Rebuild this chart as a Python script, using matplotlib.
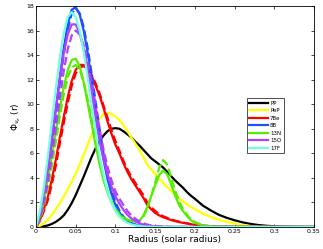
import matplotlib
matplotlib.use('Agg')
import matplotlib.pyplot as plt

# shared radius grid (solar radius)
r = [0.0, 0.005, 0.01, 0.015, 0.02, 0.025, 0.03, 0.035, 0.04, 0.045,
     0.05, 0.055, 0.06, 0.065, 0.07, 0.075, 0.08, 0.085, 0.09, 0.095,
     0.1, 0.105, 0.11, 0.115, 0.12, 0.125, 0.13, 0.135, 0.14, 0.145,
     0.15, 0.155, 0.16, 0.165, 0.17, 0.175, 0.18, 0.185, 0.19, 0.195,
     0.2, 0.21, 0.22, 0.23, 0.24, 0.25, 0.26, 0.27, 0.28, 0.29,
     0.3, 0.31, 0.32, 0.33, 0.34, 0.35]

pp = [0.0, 0.02, 0.06, 0.13, 0.25, 0.42, 0.65, 0.95, 1.4, 1.95,
      2.6, 3.35, 4.1, 4.9, 5.7, 6.4, 7.0, 7.45, 7.8, 8.0,
      8.05, 8.0, 7.8, 7.55, 7.3, 6.95, 6.65, 6.3, 5.95, 5.6,
      5.35, 5.1, 4.85, 4.5, 4.15, 3.8, 3.5, 3.2, 2.85, 2.55,
      2.3, 1.75, 1.35, 1.0, 0.75, 0.55, 0.38, 0.25, 0.16, 0.1,
      0.06, 0.03, 0.02, 0.01, 0.0, 0.0]
pep = [0.0, 0.1, 0.3, 0.6, 1.0, 1.45, 1.95, 2.5, 3.1, 3.7,
       4.35, 5.1, 5.9, 6.7, 7.5, 8.2, 8.8, 9.2, 9.3, 9.2,
       9.0, 8.7, 8.3, 7.8, 7.3, 6.8, 6.3, 5.7, 5.1, 4.7,
       4.3, 3.95, 3.6, 3.25, 2.95, 2.65, 2.35, 2.1, 1.85, 1.65,
       1.45, 1.1, 0.82, 0.6, 0.43, 0.28, 0.15, 0.08, 0.04, 0.02,
       0.01, 0.0, 0.0, 0.0, 0.0, 0.0]
be7 = [0.0, 0.6, 1.5, 2.5, 3.9, 5.5, 7.3, 9.0, 10.6, 11.9,
       12.8, 13.2, 13.2, 12.9, 12.3, 11.5, 10.7, 9.7, 8.6, 7.6,
       6.7, 6.0, 5.2, 4.5, 3.9, 3.4, 2.9, 2.4, 1.8, 1.45,
       1.15, 0.95, 0.8, 0.68, 0.57, 0.48, 0.4, 0.34, 0.28, 0.22,
       0.18, 0.11, 0.06, 0.03, 0.02, 0.01, 0.0, 0.0, 0.0, 0.0,
       0.0, 0.0, 0.0, 0.0, 0.0, 0.0]
be7_d = [0.0, 0.5, 1.3, 2.2, 3.5, 5.0, 6.8, 8.5, 10.1, 11.5,
         12.5, 13.0, 13.1, 12.9, 12.4, 11.7, 10.9, 9.9, 8.9, 7.9,
         7.0, 6.2, 5.4, 4.7, 4.1, 3.6, 3.1, 2.6, 2.0, 1.6,
         1.3, 1.05, 0.88, 0.74, 0.62, 0.52, 0.44, 0.37, 0.3, 0.24,
         0.19, 0.12, 0.06, 0.03, 0.02, 0.01, 0.0, 0.0, 0.0, 0.0,
         0.0, 0.0, 0.0, 0.0, 0.0, 0.0]
b8 = [0.0, 1.0, 2.6, 4.6, 7.0, 9.6, 12.2, 14.6, 16.5, 17.7,
      17.9, 17.3, 16.0, 14.2, 12.0, 9.7, 7.5, 5.5, 3.9, 2.7,
      1.8, 1.2, 0.75, 0.45, 0.28, 0.18, 0.1, 0.06, 0.04, 0.02,
      0.01, 0.0, 0.0, 0.0, 0.0, 0.0, 0.0, 0.0, 0.0, 0.0,
      0.0, 0.0, 0.0, 0.0, 0.0, 0.0, 0.0, 0.0, 0.0, 0.0,
      0.0, 0.0, 0.0, 0.0, 0.0, 0.0]
b8_d = [0.0, 0.8, 2.3, 4.2, 6.5, 9.1, 11.7, 14.1, 16.1, 17.4,
        17.8, 17.4, 16.3, 14.6, 12.5, 10.2, 8.0, 6.0, 4.3, 3.0,
        2.0, 1.35, 0.85, 0.52, 0.32, 0.2, 0.12, 0.07, 0.04, 0.02,
        0.01, 0.0, 0.0, 0.0, 0.0, 0.0, 0.0, 0.0, 0.0, 0.0,
        0.0, 0.0, 0.0, 0.0, 0.0, 0.0, 0.0, 0.0, 0.0, 0.0,
        0.0, 0.0, 0.0, 0.0, 0.0, 0.0]
n13 = [0.0, 0.9, 2.2, 3.9, 5.8, 7.8, 9.7, 11.4, 12.8, 13.6,
       13.7, 13.1, 11.8, 10.1, 8.4, 6.7, 5.1, 3.8, 2.8, 2.0,
       1.4, 1.0, 0.75, 0.6, 0.5, 0.45, 0.5, 0.9, 1.6, 2.5,
       3.4, 4.2, 4.6, 4.3, 3.5, 2.6, 1.8, 1.3, 0.9, 0.55,
       0.35, 0.12, 0.05, 0.02, 0.01, 0.0, 0.0, 0.0, 0.0, 0.0,
       0.0, 0.0, 0.0, 0.0, 0.0, 0.0]
n13_d = [0.0, 0.6, 1.7, 3.2, 5.0, 7.0, 9.0, 10.8, 12.2, 13.0,
         13.2, 12.8, 11.8, 10.4, 8.8, 7.1, 5.5, 4.1, 3.0, 2.1,
         1.5, 1.05, 0.75, 0.6, 0.5, 0.45, 0.5, 0.8, 1.5, 2.5,
         3.6, 4.8, 5.45, 5.1, 4.1, 3.0, 2.1, 1.45, 1.0, 0.62,
         0.4, 0.14, 0.05, 0.02, 0.01, 0.0, 0.0, 0.0, 0.0, 0.0,
         0.0, 0.0, 0.0, 0.0, 0.0, 0.0]
o15 = [0.0, 1.1, 2.8, 4.8, 7.2, 9.7, 12.1, 14.2, 15.7, 16.5,
       16.5, 15.8, 14.5, 12.8, 10.9, 8.9, 7.0, 5.5, 4.3, 3.3,
       2.5, 1.9, 1.4, 1.0, 0.7, 0.48, 0.3, 0.2, 0.12, 0.08,
       0.05, 0.03, 0.02, 0.01, 0.0, 0.0, 0.0, 0.0, 0.0, 0.0,
       0.0, 0.0, 0.0, 0.0, 0.0, 0.0, 0.0, 0.0, 0.0, 0.0,
       0.0, 0.0, 0.0, 0.0, 0.0, 0.0]
o15_d = [0.0, 0.7, 2.0, 3.7, 5.8, 8.1, 10.5, 12.7, 14.5, 15.6,
         16.0, 15.7, 14.8, 13.4, 11.7, 9.8, 8.0, 6.3, 4.9, 3.8,
         2.9, 2.3, 1.8, 1.3, 0.95, 0.68, 0.45, 0.3, 0.2, 0.13,
         0.08, 0.05, 0.03, 0.02, 0.01, 0.0, 0.0, 0.0, 0.0, 0.0,
         0.0, 0.0, 0.0, 0.0, 0.0, 0.0, 0.0, 0.0, 0.0, 0.0,
         0.0, 0.0, 0.0, 0.0, 0.0, 0.0]
f17 = [0.0, 1.3, 3.3, 5.8, 8.6, 11.3, 13.8, 15.8, 17.1, 17.5,
       17.1, 16.0, 14.3, 12.2, 10.0, 7.8, 5.8, 4.2, 2.9, 2.0,
       1.3, 0.85, 0.55, 0.35, 0.22, 0.14, 0.08, 0.05, 0.03, 0.02,
       0.01, 0.0, 0.0, 0.0, 0.0, 0.0, 0.0, 0.0, 0.0, 0.0,
       0.0, 0.0, 0.0, 0.0, 0.0, 0.0, 0.0, 0.0, 0.0, 0.0,
       0.0, 0.0, 0.0, 0.0, 0.0, 0.0]

labels = ['PP', 'PeP', '7Be', '8B', '13N', '15O', '17F']
colors = ['k', '#ffff00', '#ff0000', '#1f4fff', '#55ee00', '#b040ff', '#70ffe0']
solid = [pp, pep, be7, b8, n13, o15, f17]
dashed = [None, None, be7_d, b8_d, n13_d, o15_d, None]

fig = plt.figure(figsize=(3.23, 2.49), dpi=100)
ax = fig.add_axes([0.1115, 0.0884, 0.8605, 0.8876])

for ys, yd, c, lab in zip(solid, dashed, colors, labels):
    if yd is not None:
        ax.plot(r, yd, '--', color=c, lw=1.6)
    ax.plot(r, ys, '-', color=c, lw=1.6, label=lab)

ax.set_xlim(0, 0.35)
ax.set_ylim(0, 18)
ax.set_xticks([0, 0.05, 0.1, 0.15, 0.2, 0.25, 0.3, 0.35])
ax.set_xticklabels(['0', '0.05', '0.1', '0.15', '0.2', '0.25', '0.3', '0.35'])
ax.set_yticks(range(0, 19, 2))
ax.tick_params(direction='in', top=True, right=True, labelsize=4.5,
               length=2, width=0.5, pad=1.5)
for s in ax.spines.values():
    s.set_linewidth(0.6)

ax.set_xlabel('Radius (solar radius)', fontsize=6.5, labelpad=1)
ax.set_ylabel(r'$\Phi_{\nu_e}$ (r)', fontsize=6.5, labelpad=2)

leg = ax.legend(loc='upper left', bbox_to_anchor=(0.760, 0.582), borderaxespad=0,
                fontsize=4, frameon=True, fancybox=False, edgecolor='k',
                handlelength=3.4, handletextpad=0.3, borderpad=0.4,
                labelspacing=0.45)
leg.get_frame().set_linewidth(0.6)

fig.savefig('out.png', dpi=100)
